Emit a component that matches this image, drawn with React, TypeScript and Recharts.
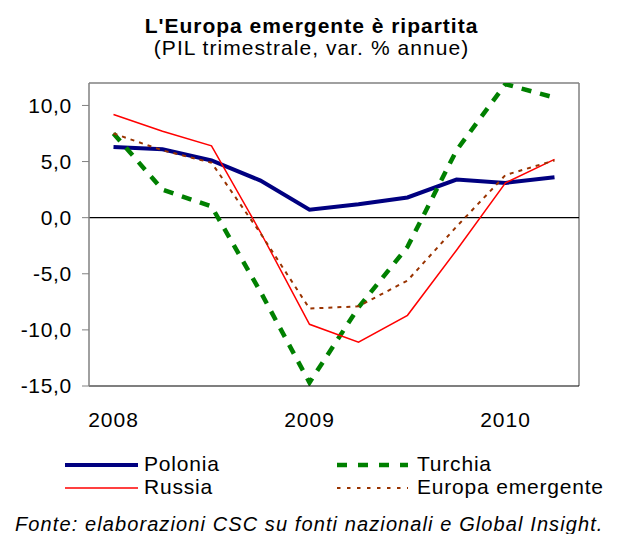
import React from "react";
import { LineChart, Line, XAxis, YAxis, ReferenceLine, Legend, CartesianGrid } from "recharts";

const quarters = ["2008Q1", "2008Q2", "2008Q3", "2008Q4", "2009Q1", "2009Q2", "2009Q3", "2009Q4", "2010Q1", "2010Q2"];
const polonia = [6.3, 6.1, 5.1, 3.3, 0.7, 1.2, 1.8, 3.4, 3.1, 3.6];
const turchia = [7.5, 2.5, 1.0, -6.6, -14.7, -8.0, -2.6, 6.0, 11.9, 10.7];
const russia = [9.2, 7.7, 6.4, -1.3, -9.5, -11.1, -8.7, -2.9, 3.1, 5.2];
const europa = [7.5, 6.0, 4.9, -1.4, -8.1, -7.9, -5.6, -0.8, 3.8, 5.1];
const yTicks = [-15, -10, -5, 0, 5, 10];
const yDomain = [-15, 12];

const data = quarters.map((q, i) => ({
  q,
  polonia: polonia[i],
  turchia: turchia[i],
  russia: russia[i],
  europa: europa[i],
}));

const FONT = '"Liberation Sans", Arial, sans-serif';

const seriesStyle = [
  { key: "polonia", name: "Polonia", color: "#000080", width: 4, dash: undefined, legendDash: undefined, col: 0, row: 0 },
  { key: "turchia", name: "Turchia", color: "#008000", width: 4.5, dash: "10 9", legendDash: "10 11", col: 1, row: 0 },
  { key: "russia", name: "Russia", color: "#ff0000", width: 1.5, dash: undefined, legendDash: undefined, col: 0, row: 1 },
  { key: "europa", name: "Europa emergente", color: "#993300", width: 2, dash: "4 5", legendDash: "3.5 6.5", col: 1, row: 1 },
];

const fmt = (v: number) => v.toFixed(1).replace(".", ",");
const xFmt = (v: string) => (v.endsWith("Q1") ? v.slice(0, 4) : "");

const renderLegend = (props: any) => {
  const payload = props.payload || [];
  return (
    <svg width={623} height={60} style={{ display: "block" }}>
      {payload.map((entry: any) => {
        const s = seriesStyle.find((t) => t.key === entry.dataKey);
        if (!s) return null;
        const x0 = s.col === 0 ? 65 : 337;
        const x1 = s.col === 0 ? 138 : 408;
        const tx = s.col === 0 ? 144 : 417;
        const ly = s.row === 0 ? 20 : 43;
        const ty = s.row === 0 ? 26 : 49;
        return (
          <g key={s.key}>
            <line x1={x0} x2={x1} y1={ly} y2={ly} stroke={s.color} strokeWidth={s.width} strokeDasharray={s.legendDash} />
            <text x={tx} y={ty} fontFamily={FONT} fontSize={21} letterSpacing={0.8} fill="#000">
              {entry.value}
            </text>
          </g>
        );
      })}
    </svg>
  );
};

export default function App() {
  return (
    <div style={{ position: "absolute", left: 0, top: 0, width: 623, height: 534, background: "#fff", fontFamily: FONT }}>
      <div style={{ position: "absolute", left: 0, top: 15, width: 623, textAlign: "center", fontSize: 21, lineHeight: 1, fontWeight: "bold", letterSpacing: 1.0, color: "#000" }}>
        L'Europa emergente è ripartita
      </div>
      <div style={{ position: "absolute", left: 0, top: 37, width: 623, textAlign: "center", fontSize: 21, lineHeight: 1, letterSpacing: 1.05, color: "#000" }}>
        (PIL trimestrale, var. % annue)
      </div>
      <LineChart width={623} height={534} data={data} margin={{ top: 83, right: 44, left: 0, bottom: 108 }}>
        <CartesianGrid
          stroke="#808080"
          strokeWidth={1.5}
          horizontalCoordinatesGenerator={({ offset }: any) => [offset.top]}
          verticalCoordinatesGenerator={({ offset }: any) => [offset.left + offset.width]}
        />
        <XAxis
          dataKey="q"
          interval={0}
          tickFormatter={xFmt}
          tickLine={false}
          tickSize={0}
          tickMargin={26}
          height={40}
          padding={{ left: 24.5, right: 24.5 }}
          axisLine={{ stroke: "#000", strokeWidth: 1.2 }}
          tick={{ fill: "#000", fontSize: 21, fontFamily: FONT, letterSpacing: 1 }}
        />
        <YAxis
          domain={yDomain}
          ticks={yTicks}
          tickFormatter={fmt}
          width={89}
          tickSize={7}
          tickMargin={10}
          interval={0}
          allowDataOverflow
          axisLine={{ stroke: "#808080", strokeWidth: 1.5 }}
          tickLine={{ stroke: "#808080" }}
          tick={{ fill: "#000", fontSize: 21, fontFamily: FONT, letterSpacing: 0.7 }}
        />
        <ReferenceLine y={0} stroke="#000" strokeWidth={1.2} />
        {seriesStyle.map((s) => (
          <Line
            key={s.key}
            type="linear"
            dataKey={s.key}
            name={s.name}
            stroke={s.color}
            strokeWidth={s.width}
            strokeDasharray={s.dash}
            dot={false}
            activeDot={false}
            isAnimationActive={false}
          />
        ))}
        <Legend
          layout="horizontal"
          verticalAlign="middle"
          content={renderLegend}
          wrapperStyle={{ position: "absolute", left: 0, top: 445, width: 623, height: 60 }}
        />
      </LineChart>
      <div style={{ position: "absolute", left: 15, top: 513.5, fontSize: 20, lineHeight: 1, fontStyle: "italic", letterSpacing: 1.1, color: "#000", whiteSpace: "nowrap" }}>
        Fonte: elaborazioni CSC su fonti nazionali e Global Insight.
      </div>
    </div>
  );
}
